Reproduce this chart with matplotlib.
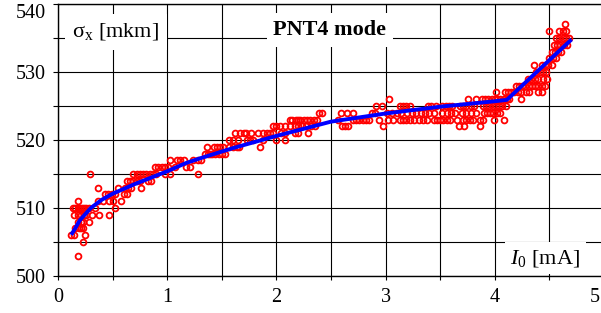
import matplotlib
matplotlib.use('Agg')
import matplotlib.pyplot as plt
import matplotlib.transforms as mtransforms
from matplotlib.ticker import MultipleLocator

plt.rcParams['font.family'] = ['Liberation Serif', 'DejaVu Serif']
plt.rcParams['mathtext.fontset'] = 'custom'
plt.rcParams['mathtext.rm'] = 'Liberation Serif'
plt.rcParams['mathtext.it'] = 'Liberation Serif:italic'
plt.rcParams['mathtext.bf'] = 'Liberation Serif:bold'

# measured sigma_x values (integer mkm), x positions (I0, mA) for each level
y_levels = [503, 505, 506, 507, 508, 509, 510, 511, 512, 513, 514, 515, 516, 517,
            518, 519, 520, 521, 522, 523, 524, 525, 526, 527, 528, 529, 530, 531,
            532, 533, 534, 535, 536, 537]
x_by_level = [
    [0.18],
    [0.23],
    [0.12, 0.15, 0.25],
    [0.16, 0.19, 0.21, 0.23],
    [0.18, 0.21, 0.23, 0.28],
    [0.15, 0.18, 0.21, 0.24, 0.26, 0.31, 0.38, 0.47],
    [0.14, 0.16, 0.18, 0.20, 0.22, 0.24, 0.26, 0.28, 0.34, 0.52],
    [0.18, 0.37, 0.41, 0.47, 0.50, 0.58],
    [0.43, 0.46, 0.49, 0.52, 0.60, 0.63],
    [0.37, 0.55, 0.61, 0.64, 0.67, 0.76],
    [0.63, 0.66, 0.69, 0.72, 0.75, 0.82, 0.85],
    [0.29, 0.69, 0.72, 0.75, 0.78, 0.81, 0.84, 0.87, 0.90, 0.98, 1.03, 1.28],
    [0.89, 0.92, 0.95, 0.98, 1.01, 1.07, 1.17, 1.21],
    [1.03, 1.09, 1.12, 1.15, 1.24, 1.28, 1.31],
    [1.35, 1.37, 1.39, 1.41, 1.44, 1.47, 1.50, 1.53],
    [1.36, 1.43, 1.46, 1.48, 1.51, 1.57, 1.60, 1.64, 1.66, 1.85],
    [1.57, 1.60, 1.65, 1.73, 1.76, 1.79, 1.88, 2.00, 2.08],
    [1.62, 1.67, 1.70, 1.72, 1.77, 1.83, 1.88, 1.91, 1.94, 1.97, 2.04, 2.08,
     2.17, 2.20, 2.29],
    [1.97, 2.00, 2.03, 2.08, 2.12, 2.17, 2.20, 2.23, 2.27, 2.32, 2.35, 2.60,
     2.63, 2.66, 2.98, 3.67, 3.72, 3.86],
    [2.12, 2.14, 2.18, 2.20, 2.22, 2.25, 2.28, 2.31, 2.34, 2.37, 2.56, 2.70,
     2.73, 2.76, 2.79, 2.82, 2.85, 2.94, 3.02, 3.07, 3.13, 3.16, 3.19, 3.22,
     3.26, 3.31, 3.34, 3.38, 3.44, 3.47, 3.50, 3.53, 3.56, 3.59, 3.65, 3.71,
     3.74, 3.77, 3.80, 3.86, 3.89, 3.99, 4.08],
    [2.39, 2.42, 2.59, 2.65, 2.70, 2.88, 2.90, 3.01, 3.06, 3.10, 3.14, 3.20,
     3.24, 3.28, 3.32, 3.36, 3.40, 3.44, 3.52, 3.56, 3.60, 3.64, 3.70, 3.74,
     3.78, 3.83, 3.90, 3.93, 3.96, 3.98, 4.02, 4.05],
    [2.91, 2.97, 3.13, 3.16, 3.19, 3.22, 3.39, 3.42, 3.46, 3.52, 3.55, 3.58,
     3.61, 3.68, 3.71, 3.74, 3.78, 3.81, 3.89, 3.92, 3.95, 3.98, 4.01, 4.04,
     4.07, 4.10],
    [3.03, 3.75, 3.83, 3.88, 3.91, 3.94, 3.97, 4.00, 4.02, 4.05, 4.08, 4.11,
     4.13, 4.24],
    [4.01, 4.09, 4.12, 4.15, 4.18, 4.21, 4.24, 4.29, 4.31, 4.40, 4.43],
    [4.19, 4.22, 4.25, 4.28, 4.31, 4.34, 4.37, 4.40, 4.43, 4.46],
    [4.30, 4.33, 4.37, 4.40, 4.44, 4.48],
    [4.38, 4.41, 4.44, 4.47],
    [4.36, 4.43, 4.46, 4.49, 4.52],
    [4.50, 4.53, 4.56],
    [4.52, 4.55, 4.58, 4.61],
    [4.54, 4.57, 4.60, 4.63, 4.66],
    [4.56, 4.59, 4.62, 4.65, 4.68],
    [4.50, 4.59, 4.62, 4.65],
    [4.64],
]

# fitted curve (blue)
fit_x = [0.13, 0.15, 0.2, 0.3, 0.4, 0.5, 0.7, 1.0, 1.17, 1.3, 1.6, 2.0, 2.5,
         3.0, 3.5, 4.0, 4.11, 4.69]
fit_y = [506.3, 506.8, 508.2, 510.0, 511.2, 512.1, 513.5, 515.4, 516.6, 517.3,
         518.8, 520.6, 522.7, 523.9, 524.9, 525.7, 525.9, 534.6]

y_ticks = [500, 510, 520, 530, 540]
x_ticks = [0, 1, 2, 3, 4, 5]

xs = []
ys = []
for lev, row in zip(y_levels, x_by_level):
    for x in row:
        xs.append(x)
        ys.append(lev)

fig = plt.figure(figsize=(6.01, 3.13), dpi=100)
ax = fig.add_axes([58 / 601, 37 / 313, 546 / 601, 272 / 313])
ax.set_xlim(0, 5)
ax.set_ylim(500, 540)

ax.set_xticks(x_ticks)
ax.set_yticks(y_ticks)
ax.xaxis.set_minor_locator(MultipleLocator(0.5))
ax.yaxis.set_minor_locator(MultipleLocator(5))
ax.grid(True, which='both', color='black', linewidth=0.8)
ax.set_axisbelow(True)
ax.tick_params(which='both', direction='out', length=3.5, width=0.8,
               labelsize=14.5, pad=5)
ax.tick_params(axis='x', which='both', length=3)
ax.tick_params(axis='x', pad=6)
for s in ax.spines.values():
    s.set_linewidth(1.0)
# edge labels pulled inside the figure like in the original
ax.get_yticklabels()[-1].set_verticalalignment('top')
last_x = ax.get_xticklabels()[-1]
last_x.set_horizontalalignment('right')
last_x.set_transform(last_x.get_transform() +
                     mtransforms.ScaledTranslation(-4 / 100, 0,
                                                   fig.dpi_scale_trans))

ax.plot(xs, ys, linestyle='none', marker='o', markersize=4.2,
        markerfacecolor='none', markeredgecolor='#ff0000',
        markeredgewidth=1.3, zorder=3)
ax.plot(fit_x, fit_y, color='#0000ff', linewidth=2.8, zorder=4)

ax.text(0.53, 535.9, 'σ$_\\mathregular{x}$ [mkm]', fontsize=16,
        ha='center', va='center', zorder=5,
        bbox=dict(boxstyle='square,pad=0.35', fc='white', ec='none'))
ax.text(2.49, 536.2, 'PNT4 mode', fontsize=16, fontweight='bold',
        ha='center', va='center', zorder=5,
        bbox=dict(boxstyle='square,pad=0.3', fc='white', ec='none'))
ax.text(4.14, 502.6, '$I_0$ [mA]', fontsize=16, ha='left', va='center',
        zorder=5, bbox=dict(boxstyle='square,pad=0.25', fc='white', ec='none'))

fig.savefig('out.png', dpi=100)
